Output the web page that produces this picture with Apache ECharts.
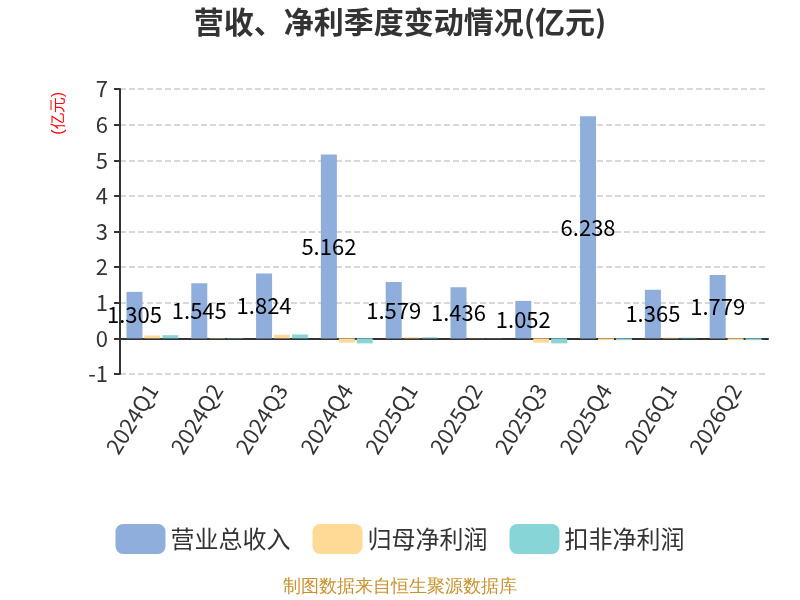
<!DOCTYPE html>
<html>
<head>
<meta charset="utf-8">
<script src="https://cdn.jsdelivr.net/npm/echarts@6/dist/echarts.min.js"></script>
<style>
html, body { margin: 0; padding: 0; background: #fff; }
#chart { width: 800px; height: 600px; }
</style>
</head>
<body>
<div id="chart"></div>
<script>
var quarters = ['2024Q1','2024Q2','2024Q3','2024Q4','2025Q1','2025Q2','2025Q3','2025Q4','2026Q1','2026Q2'];
var revenue = [1.305, 1.545, 1.824, 5.162, 1.579, 1.436, 1.052, 6.238, 1.365, 1.779];
var netProfit = [0.08, 0.01, 0.10, -0.12, 0.03, 0.005, -0.12, -0.05, 0.02, -0.05];
var netProfitExcl = [0.09, 0.01, 0.11, -0.14, 0.03, 0.005, -0.14, -0.05, 0.02, -0.05];

var chart = echarts.init(document.getElementById('chart'));
chart.setOption({
    animation: false,
    textStyle: {
        fontFamily: '"Noto Sans CJK SC", "Noto Sans", sans-serif'
    },
    title: {
        text: '营收、净利季度变动情况(亿元)',
        left: 'center',
        top: 2,
        textStyle: {
            color: '#333',
            fontSize: 30,
            fontWeight: 'bold'
        }
    },
    legend: {
        top: 519,
        left: 'center',
        itemWidth: 50,
        itemHeight: 30,
        itemGap: 22,
        textStyle: {
            fontSize: 24,
            color: '#333'
        },
        data: ['营业总收入', '归母净利润', '扣非净利润']
    },
    grid: {
        left: 120,
        right: 32,
        top: 89,
        bottom: 226
    },
    graphic: [
        {
            type: 'text',
            left: 51,
            top: 92,
            rotation: Math.PI / 2,
            style: {
                text: '(亿元)',
                fill: '#ff0000',
                fontSize: 16
            }
        },
        {
            type: 'text',
            left: 'center',
            top: 578,
            style: {
                text: '制图数据来自恒生聚源数据库',
                fill: '#C9912B',
                fontSize: 18
            }
        }
    ],
    xAxis: {
        type: 'category',
        data: quarters,
        axisLine: {
            lineStyle: { color: '#333', width: 2 }
        },
        axisTick: {
            length: 6,
            lineStyle: { color: '#333', width: 2 }
        },
        axisLabel: {
            color: '#333',
            fontSize: 22,
            rotate: 58,
            interval: 0,
            margin: 12
        }
    },
    yAxis: {
        type: 'value',
        min: -1,
        max: 7,
        interval: 1,
        axisLine: {
            show: true,
            lineStyle: { color: '#333', width: 2 }
        },
        axisTick: {
            show: true,
            length: 6,
            lineStyle: { color: '#333', width: 2 }
        },
        axisLabel: {
            color: '#333',
            fontSize: 22,
            margin: 12
        },
        splitLine: {
            lineStyle: { color: '#ccc', type: 'dashed', width: 1.5 }
        }
    },
    series: [
        {
            name: '营业总收入',
            type: 'bar',
            barWidth: 16,
            barGap: '12%',
            itemStyle: { color: '#8FAEDB' },
            label: {
                show: true,
                position: 'inside',
                color: '#000',
                fontSize: 22
            },
            data: revenue
        },
        {
            name: '归母净利润',
            type: 'bar',
            barWidth: 16,
            barGap: '12%',
            itemStyle: { color: '#FFD996' },
            data: netProfit
        },
        {
            name: '扣非净利润',
            type: 'bar',
            barWidth: 16,
            barGap: '12%',
            itemStyle: { color: '#88D5D8' },
            data: netProfitExcl
        }
    ]
});
</script>
</body>
</html>
